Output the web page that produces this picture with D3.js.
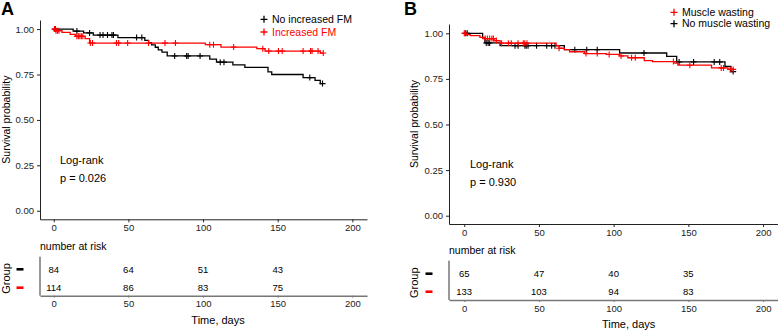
<!DOCTYPE html>
<html>
<head>
<meta charset="utf-8">
<script src="https://cdn.jsdelivr.net/npm/d3@7"></script>
<style>
  body { margin: 0; background: #fff; }
  svg { display: block; font-family: "Liberation Sans", Arial, sans-serif; }
</style>
</head>
<body>
<svg id="km" width="778" height="330"></svg>
<script>
// Tick values shared by both panels
const timeTicks = [0, 50, 100, 150, 200];
const survTicks = [0, 0.25, 0.5, 0.75, 1];
const riskTimes = [0, 50, 100, 150];

// Panel A: steps are [day, survival], censor marks are days
const aNoFmSteps = [[0, 1], [13, 0.989], [20, 0.979], [26.5, 0.967], [43, 0.953], [61, 0.938], [63.5, 0.925],
  [65.5, 0.913], [68, 0.900], [70, 0.886], [72.5, 0.873], [76, 0.852], [104.5, 0.835], [109, 0.818],
  [120, 0.803], [128, 0.789], [143.5, 0.765], [146, 0.75], [167, 0.733], [175, 0.718], [178.5, 0.700]];
const aNoFmCensor = [1, 15.5, 24, 31, 33, 36, 39, 40, 55.5, 59, 81, 89, 90, 98, 111.5, 114, 171.5, 180];
const aFmSteps = [[0, 1], [1, 0.991], [5.5, 0.982], [11, 0.971], [14.5, 0.96], [21, 0.947], [24, 0.923],
  [101.5, 0.914], [112, 0.901], [136, 0.892], [141.5, 0.879], [178.5, 0.868]];
const aFmCensor = [0.5, 1.5, 2.5, 3.5, 15.5, 16.5, 17.5, 18.5, 19.5, 24.5, 26, 42, 43.5, 49.5, 63.5, 74.5,
  81.5, 104.5, 107, 120.5, 140, 144, 150.5, 153, 167, 172, 173, 177, 180.5];
const aRiskNoFm = [84, 64, 51, 43];
const aRiskFm = [114, 86, 83, 75];

// Panel B
const bWasteSteps = [[0, 1], [1.5, 0.993], [4, 0.987], [10.5, 0.978], [14, 0.971], [20, 0.96], [24, 0.946],
  [61.5, 0.932], [63.5, 0.918], [67, 0.91], [70.5, 0.899], [80.5, 0.889], [95, 0.884], [104, 0.876],
  [109.5, 0.866], [120.5, 0.85], [126, 0.845], [141, 0.836], [143, 0.825], [165.5, 0.81], [176.5, 0.802]];
const bWasteCensor = [0, 0.5, 14, 15.5, 17, 18.5, 19.5, 21.5, 25, 29.5, 31.5, 36, 39.5, 40.5, 42, 63.5, 81.5,
  89, 97, 105, 112, 114.5, 140, 151, 172, 173.5, 178, 180];
const bNoWasteSteps = [[0, 1], [12.3, 0.974], [13.8, 0.947], [24, 0.932], [67, 0.91], [104, 0.892],
  [135.5, 0.874], [142.2, 0.843], [174.5, 0.819], [178.5, 0.79]];
const bNoWasteCensor = [1, 2, 14.7, 16, 17, 34, 36, 40.6, 41.5, 42.7, 48.4, 55.2, 58.5, 60.7, 74, 82, 89,
  120.3, 143.8, 153.5, 167.3, 171, 180];
const bRiskNoWaste = [65, 47, 40, 35];
const bRiskWaste = [133, 103, 94, 83];

const RED = "#ff0000";
const BLACK = "#000000";

const svg = d3.select("#km");

// survival value at day t for a step list
function survAt(steps, t) {
  let s = steps[0][1];
  steps.forEach(d => { if (d[0] <= t) s = d[1]; });
  return s;
}

function plus(g, cx, cy, h, color, w) {
  g.append("path")
      .attr("d", `M${cx - h},${cy}H${cx + h}M${cx},${cy - h}V${cy + h}`)
      .attr("stroke", color)
      .attr("stroke-width", w || 1.2)
      .attr("fill", "none");
}

function panel(cfg) {
  const g = svg.append("g");

  let x = d3.scaleLinear().domain(cfg.xDomain).range([cfg.left, cfg.right]);
  let y = d3.scaleLinear().domain(cfg.yDomain).range([cfg.bottom, cfg.top]);

  // panel letter
  g.append("text")
      .attr("x", cfg.letterX).attr("y", 15)
      .style("font-size", "18px").style("font-weight", "bold")
      .text(cfg.letter);

  // axes
  g.append("g")
      .attr("transform", `translate(${cfg.left},0)`)
      .call(d3.axisLeft(y).tickValues(survTicks).tickFormat(d3.format(".2f")).tickSize(3).tickPadding(3).tickSizeOuter(0))
      .call(a => a.selectAll("text").style("font-size", "9.5px").attr("fill", "#222"))
      .call(a => a.selectAll("line,path").attr("stroke", "#222"));

  g.append("g")
      .attr("transform", `translate(0,${cfg.bottom})`)
      .call(d3.axisBottom(x).tickValues(timeTicks).tickSize(3).tickPadding(2).tickSizeOuter(0))
      .call(a => a.selectAll("text").style("font-size", "9.5px").attr("fill", "#222"))
      .call(a => a.selectAll("line,path").attr("stroke", "#222"));

  g.append("text")
      .attr("transform", `translate(${cfg.yLabelX},${(cfg.top + cfg.bottom) / 2}) rotate(-90)`)
      .attr("text-anchor", "middle").attr("dy", "0.35em")
      .style("font-size", "10.5px")
      .text("Survival probability");

  // curves
  let line = d3.line()
      .x(d => x(d[0]))
      .y(d => y(d[1]))
      .curve(d3.curveStepAfter);

  cfg.series.forEach(s => {
    const end = Math.max(s.steps[s.steps.length - 1][0], d3.max(s.censor));
    const pts = s.steps.concat([[end, s.steps[s.steps.length - 1][1]]]);
    g.append("path")
        .datum(pts)
        .attr("fill", "none")
        .attr("stroke", s.color)
        .attr("stroke-width", 1.3)
        .attr("d", line);
    s.censor.forEach(t => plus(g, x(t), y(survAt(s.steps, t)), 3, s.color, 1.1));
  });

  // legend
  cfg.legend.forEach((l, i) => {
    const ly = cfg.legendY + i * cfg.legendStep;
    plus(g, cfg.legendX, ly, 3.5, l.color, 1.3);
    g.append("text")
        .attr("x", cfg.legendX + 8).attr("y", ly).attr("dy", "0.35em")
        .style("font-size", "10.5px")
        .attr("fill", l.textColor)
        .text(l.label);
  });

  // log-rank text
  g.append("text").attr("x", cfg.logX).attr("y", cfg.logY).attr("dy", "0.35em")
      .style("font-size", "11px").text("Log-rank");
  g.append("text").attr("x", cfg.logX).attr("y", cfg.logY + 18.5).attr("dy", "0.35em")
      .style("font-size", "11px").text(cfg.pText);

  // risk table
  const r = cfg.risk;
  g.append("text").attr("x", cfg.left).attr("y", r.titleY).attr("dy", "0.35em")
      .style("font-size", "10.5px").text("number at risk");

  g.append("line")
      .attr("x1", cfg.left).attr("x2", cfg.left)
      .attr("y1", r.top).attr("y2", r.bottom)
      .attr("stroke", "#333").attr("stroke-width", 1);
  g.append("g")
      .attr("transform", `translate(0,${r.bottom})`)
      .call(d3.axisBottom(x).tickValues(timeTicks).tickSize(2).tickPadding(3).tickSizeOuter(0))
      .call(a => a.selectAll("text").style("font-size", "9.5px").attr("fill", "#222"))
      .call(a => a.select(".domain").attr("stroke", "#777").attr("stroke-width", 1.4))
      .call(a => a.selectAll(".tick line").attr("stroke", "#777"));

  r.rows.forEach((row, i) => {
    const ry = r.rowY[i];
    g.append("line")
        .attr("x1", r.dashX - 3.5).attr("x2", r.dashX + 3.5)
        .attr("y1", ry).attr("y2", ry)
        .attr("stroke", row.color).attr("stroke-width", 2.6);
    g.selectAll(null)
        .data(row.values)
        .join("text")
        .attr("x", (d, j) => x(riskTimes[j]))
        .attr("y", ry).attr("dy", "0.35em")
        .attr("text-anchor", "middle")
        .style("font-size", "9.5px")
        .text(d => d);
  });

  g.append("text")
      .attr("transform", `translate(${r.groupX},${(r.rowY[0] + r.rowY[1]) / 2}) rotate(-90)`)
      .attr("text-anchor", "middle").attr("dy", "0.35em")
      .style("font-size", "11px")
      .text("Group");

  g.append("text")
      .attr("x", x(100) + 15).attr("y", r.timeY).attr("dy", "0.35em")
      .attr("text-anchor", "middle")
      .style("font-size", "11px")
      .text("Time, days");
}

panel({
  letter: "A", letterX: 1,
  left: 40, right: 367, top: 20, bottom: 219.3,
  xDomain: [-9.2, 209.8], yDomain: [-0.047, 1.05],
  yLabelX: 6,
  series: [
    {steps: aNoFmSteps, censor: aNoFmCensor, color: BLACK},
    {steps: aFmSteps, censor: aFmCensor, color: RED}
  ],
  legendX: 264, legendY: 19.3, legendStep: 12.7,
  legend: [
    {label: "No increased FM", color: BLACK, textColor: BLACK},
    {label: "Increased FM", color: RED, textColor: RED}
  ],
  logX: 60, logY: 160, pText: "p = 0.026",
  risk: {
    titleY: 246, top: 256.7, bottom: 295.7, rowY: [269.3, 287.7], dashX: 20, groupX: 6.5, timeY: 320,
    rows: [{values: aRiskNoFm, color: BLACK}, {values: aRiskFm, color: RED}]
  }
});

panel({
  letter: "B", letterX: 404,
  left: 449, right: 778, top: 24, bottom: 224,
  xDomain: [-10.2, 210], yDomain: [-0.0455, 1.051],
  yLabelX: 414.5,
  series: [
    {steps: bNoWasteSteps, censor: bNoWasteCensor, color: BLACK},
    {steps: bWasteSteps, censor: bWasteCensor, color: RED}
  ],
  legendX: 674, legendY: 12.3, legendStep: 11.4,
  legend: [
    {label: "Muscle wasting", color: RED, textColor: BLACK},
    {label: "No muscle wasting", color: BLACK, textColor: BLACK}
  ],
  logX: 470, logY: 164, pText: "p = 0.930",
  risk: {
    titleY: 250, top: 260.7, bottom: 300, rowY: [273.7, 291.7], dashX: 429, groupX: 414, timeY: 324.3,
    rows: [{values: bRiskNoWaste, color: BLACK}, {values: bRiskWaste, color: RED}]
  }
});
</script>
</body>
</html>
